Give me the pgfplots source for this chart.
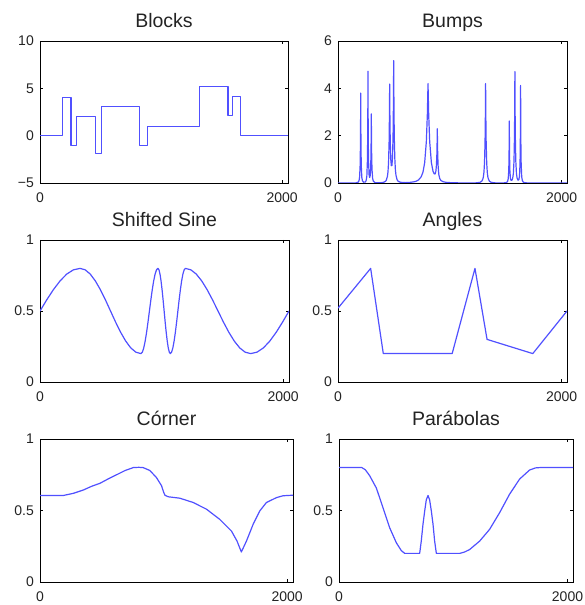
\documentclass[border=0pt]{standalone}
\usepackage{fontspec}
\setmainfont{Liberation Sans}
\usepackage{pgfplots}
\pgfplotsset{compat=1.18}
\definecolor{sigblue}{RGB}{80,80,255}
\definecolor{txt}{RGB}{35,35,35}
\pgfplotsset{
  sub/.style={
    scale only axis,
    xmin=0, xmax=2048,
    xtick={0,2000}, xticklabels={0,2000},
    tick align=inside,
    xtick pos=both, ytick pos=both,
    major tick length=3pt,
    tick style={black, line width=0.5pt},
    axis line style={black, line width=0.8pt},
    /pgf/number format/assume math mode=true,
    tick label style={font=\fontsize{14}{16}\selectfont, text=txt},
    xticklabel style={inner sep=0pt, anchor=north, yshift=-10pt},
    yticklabel style={inner sep=0pt, anchor=east, xshift=-6pt},
    title style={font=\fontsize{19.5}{21}\selectfont, text=txt, at={(0.5,1)}, anchor=base, yshift=7pt},
    no markers,
  },
  sig/.style={draw=sigblue, line width=1.2pt, line join=round, mark=none},
  unit/.style={ymin=0, ymax=1, ytick={0,0.5,1}, yticklabels={0,0.5,1}},
}
\begin{document}
\begin{tikzpicture}
\path[use as bounding box] (0,0) rectangle (584pt,605pt);

% Blocks
\begin{axis}[sub, at={(40pt,422pt)}, anchor=south west, width=248pt, height=142pt,
  title={Blocks}, ymin=-5, ymax=10, ytick={-5,0,5,10}, yticklabels={−5,0,5,10}]
\addplot[sig] coordinates {(0,0) (187,0) (187,4) (256,4) (256,-1) (303,-1) (303,2) (461,2) (461,-1.9) (508,-1.9) (508,3.05) (819,3.05) (819,-1) (889,-1) (889,0.95) (1319,0.95) (1319,5.2) (1552,5.2) (1552,2.15) (1589,2.15) (1589,4.15) (1655,4.15) (1655,0) (2048,0)};
\end{axis}

% Bumps
\begin{axis}[sub, at={(338pt,422pt)}, anchor=south west, width=229pt, height=142pt,
  title={Bumps}, ymin=0, ymax=6, ytick={0,2,4,6}, yticklabels={0,2,4,6}]
\addplot[sig] coordinates {(0,0) (100,0.001) (160,0.005) (180,0.033) (188,0.098) (193,0.24) (198,0.754) (200.5,1.56) (202,2.60) (203,3.80) (204,2.60) (205.5,1.56) (208,0.755) (213,0.241) (218,0.102) (228,0.034) (243,0.040) (248,0.066) (253,0.129) (258,0.304) (263,0.945) (265.5,1.94) (267,3.23) (268,4.72) (269,3.23) (270.5,1.95) (273,0.964) (278,0.351) (283,0.233) (288,0.317) (292,0.61) (295,1.21) (297,2.13) (298,2.92) (299,2.13) (301,1.20) (304,0.585) (310,0.188) (316,0.078) (328,0.021) (346,0.006) (380,0.009) (410,0.031) (425,0.073) (432,0.12) (442,0.28) (447,0.47) (452,0.855) (457,1.74) (460,2.87) (462,4.18) (464,2.90) (467,1.80) (472,0.99) (477,0.73) (482,0.74) (487,1.04) (492,1.89) (494,2.55) (496,3.56) (498,5.17) (500,3.54) (502,2.51) (504,1.83) (508,1.045) (513,0.57) (518,0.34) (528,0.143) (538,0.071) (558,0.03) (600,0.016) (640,0.024) (680,0.05) (700,0.077) (720,0.129) (744,0.263) (760,0.459) (775,0.853) (790,1.745) (799,2.89) (805,4.20) (811,2.89) (820,1.75) (835,0.865) (850,0.49) (860,0.39) (868,0.38) (875,0.49) (880,0.73) (884,1.19) (886,1.61) (888,2.29) (890,1.60) (892,1.16) (896,0.67) (902,0.35) (910,0.187) (920,0.108) (940,0.053) (970,0.025) (1020,0.011) (1100,0.0036) (1200,0.003) (1240,0.0067) (1270,0.028) (1285,0.073) (1295,0.164) (1300,0.2625) (1305,0.449) (1310,0.832) (1315,1.72) (1318,2.87) (1320,4.2) (1322,2.87) (1325,1.72) (1330,0.832) (1335,0.449) (1340,0.2625) (1345,0.164) (1355,0.073) (1370,0.028) (1400,0.0067) (1440,0.0017) (1480,0.003) (1500,0.012) (1510,0.030) (1517,0.074) (1522,0.172) (1527,0.527) (1529.5,1.08) (1531,1.79) (1532,2.62) (1533,1.79) (1534.5,1.084) (1537,0.537) (1542,0.194) (1547,0.113) (1555,0.112) (1562,0.195) (1568,0.387) (1574,0.933) (1578,1.93) (1580,2.94) (1582,4.705) (1584,2.94) (1586,1.93) (1590,0.935) (1596,0.389) (1602,0.199) (1610,0.117) (1618,0.147) (1623,0.286) (1628,0.83) (1630.5,1.70) (1632,2.82) (1633,4.12) (1634,2.815) (1635.5,1.69) (1638,0.82) (1643,0.265) (1648,0.112) (1656,0.039) (1670,0.011) (1700,0.002) (1760,0.0005) (2048,0)};
\end{axis}

% Shifted Sine
\begin{axis}[sub, unit, at={(40pt,223pt)}, anchor=south west, width=249pt, height=142pt,
  title={Shifted Sine}]
\addplot[sig] coordinates {(0,0.5) (55,0.578) (110,0.65) (165,0.712) (220,0.76) (275,0.79) (330,0.8) (371.7,0.79) (413.3,0.76) (455,0.712) (496.7,0.65) (538.3,0.578) (580,0.5) (621.7,0.422) (663.3,0.35) (705,0.288) (746.7,0.24) (788.3,0.21) (830,0.2) (841.7,0.21) (853.3,0.24) (865,0.288) (876.7,0.35) (888.3,0.422) (900,0.5) (911.7,0.578) (923.3,0.65) (935,0.712) (946.7,0.76) (958.3,0.79) (970,0.8) (978.5,0.79) (987,0.76) (995.5,0.712) (1004,0.65) (1012.5,0.578) (1021,0.5) (1029.5,0.422) (1038,0.35) (1046.5,0.288) (1055,0.24) (1063.5,0.21) (1072,0.2) (1082.3,0.21) (1092.7,0.24) (1103,0.288) (1113.3,0.35) (1123.7,0.422) (1134,0.5) (1144.3,0.578) (1154.7,0.65) (1165,0.712) (1175.3,0.76) (1185.7,0.79) (1196,0.8) (1240.7,0.79) (1285.3,0.76) (1330,0.712) (1374.7,0.65) (1419.3,0.578) (1464,0.5) (1508.7,0.422) (1553.3,0.35) (1598,0.288) (1642.7,0.24) (1687.3,0.21) (1732,0.2) (1784.7,0.21) (1837.3,0.24) (1890,0.288) (1942.7,0.35) (1995.3,0.422) (2048,0.5)};
\end{axis}

% Angles
\begin{axis}[sub, unit, at={(338pt,223pt)}, anchor=south west, width=229pt, height=142pt,
  title={Angles}]
\addplot[sig] coordinates {(0,0.52) (292,0.8) (405,0.2) (1021,0.2) (1225,0.8) (1333,0.3) (1742,0.2) (2048,0.5)};
\end{axis}

% Corner
\begin{axis}[sub, unit, at={(40pt,23pt)}, anchor=south west, width=253pt, height=143pt,
  title={Córner}]
\addplot[sig] coordinates {(0,0.605) (189,0.605) (270,0.62) (350,0.643) (420,0.67) (485,0.69) (550,0.72) (620,0.75) (690,0.78) (755,0.80) (800,0.802) (835,0.80) (889,0.78) (943,0.73) (984,0.673) (1000,0.63) (1011,0.607) (1038,0.596) (1132,0.586) (1240,0.556) (1348,0.509) (1455,0.438) (1550,0.356) (1595,0.286) (1630,0.21) (1671,0.286) (1725,0.403) (1779,0.497) (1833,0.556) (1914,0.59) (1967,0.603) (2048,0.607)};
\end{axis}

% Parabolas
\begin{axis}[sub, unit, at={(339pt,23pt)}, anchor=south west, width=234pt, height=143pt,
  title={Parábolas}]
\addplot[sig] coordinates {(0,0.8) (200,0.8) (230,0.785) (268,0.744) (327,0.657) (385,0.52) (443,0.38) (502,0.274) (545,0.22) (575,0.2) (706,0.2) (720,0.286) (735,0.403) (750,0.497) (764,0.575) (779,0.605) (793,0.575) (808,0.497) (823,0.403) (837,0.286) (852,0.2) (1056,0.2) (1100,0.21) (1143,0.227) (1231,0.286) (1318,0.368) (1406,0.485) (1493,0.614) (1581,0.72) (1668,0.783) (1720,0.798) (1756,0.8) (2048,0.8)};
\end{axis}
\end{tikzpicture}
\end{document}
